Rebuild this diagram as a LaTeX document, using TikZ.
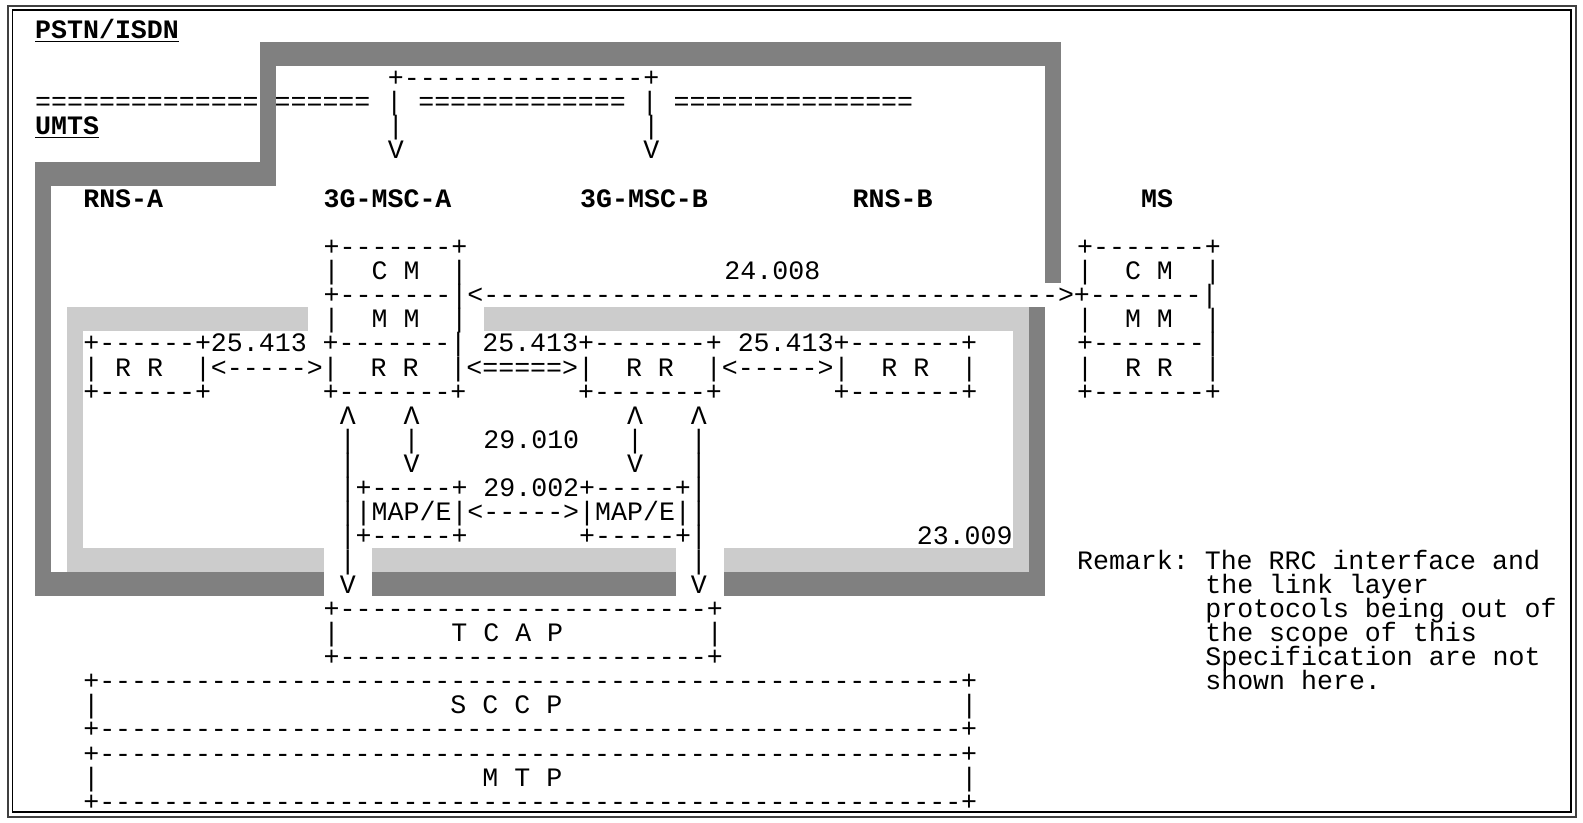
\documentclass[tikz,border=0pt]{standalone}
\usepackage{fontspec}
\setmonofont{Liberation Mono}
\usepackage{tikz}
\ExplSyntaxOn
\NewDocumentCommand\rep{mm}{\prg_replicate:nn{#1}{#2}}
\ExplSyntaxOff

\begin{document}
\begin{tikzpicture}[x=0.3206cm,y=-0.4826cm,
  asc/.style={anchor=base west,yshift=-5pt,inner sep=0pt,outer sep=0pt,font=\ttfamily\fontsize{15.14pt}{18pt}\selectfont},
  hdr/.style={asc,font=\ttfamily\bfseries\fontsize{15.14pt}{18pt}\selectfont},
  darkband/.style={fill=black!50},
  lightband/.style={fill=black!20}]
\useasboundingbox (-5.696,-3.22) rectangle (93.06,30.887);
\draw[black!75,line width=0.04cm] (-5.178,-2.971) rectangle (92.62,30.64);
\draw[line width=0.026cm] (-4.903,-2.806) rectangle (92.31,30.43);
\node[hdr] (pstn) at (-3.5,-2) {\underline{PSTN/ISDN}};
\node[asc] (trunk_top) at (18.5,0) {+\rep{15}{-}+};
\node[asc] (border) at (-3.5,1) {\rep{21}{=}~|~\rep{13}{=}~|~\rep{15}{=}};
\node[hdr] (umts) at (-3.5,2) {\underline{UMTS}};
\node[asc] (trunk_mid) at (18.5,2) {|\rep{15}{~}|};
\node[asc] (trunk_dn) at (18.5,3) {V\rep{15}{~}V};
\node[hdr] (rnsA) at (-0.5,5) {RNS-A};
\node[hdr] (mscA) at (14.5,5) {3G-MSC-A};
\node[hdr] (mscB) at (30.5,5) {3G-MSC-B};
\node[hdr] (rnsB) at (47.5,5) {RNS-B};
\node[hdr] (ms) at (65.5,5) {MS};
\node[asc] (mscA_top) at (14.5,7) {+\rep{7}{-}+};
\node[asc] (ms_top) at (61.5,7) {+\rep{7}{-}+};
\node[asc] (mscA_cm) at (14.5,8) {|~~C~M~~|};
\node[asc] (l24008) at (39.5,8) {24.008};
\node[asc] (ms_cm) at (61.5,8) {|~~C~M~~|};
\node[asc] (cm_link) at (14.5,9) {+\rep{7}{-}|<\rep{36}{-}>+\rep{7}{-}|};
\node[asc] (mscA_mm) at (14.5,10) {|~~M~M~~|};
\node[asc] (ms_mm) at (61.5,10) {|~~M~M~~|};
\node[asc] (rr_top) at (-0.5,11) {+\rep{6}{-}+25.413~+\rep{7}{-}|~25.413+\rep{7}{-}+~25.413+\rep{7}{-}+};
\node[asc] (ms_rrtop) at (61.5,11) {+\rep{7}{-}|};
\node[asc] (rr_mid) at (-0.5,12) {|~R~R~~|<\rep{5}{-}>|~~R~R~~|<\rep{5}{=}>|~~R~R~~|<\rep{5}{-}>|~~R~R~~|};
\node[asc] (ms_rr) at (61.5,12) {|~~R~R~~|};
\node[asc] (rr_bot) at (-0.5,13) {+\rep{6}{-}+\rep{7}{~}+\rep{7}{-}+\rep{7}{~}+\rep{7}{-}+\rep{7}{~}+\rep{7}{-}+};
\node[asc] (ms_bot) at (61.5,13) {+\rep{7}{-}+};
\node[asc] (map_up) at (15.5,14) {Λ~~~Λ\rep{13}{~}Λ~~~Λ};
\node[asc] (map_l29010) at (15.5,15) {|~~~|~~~~29.010~~~|~~~|};
\node[asc] (map_dn) at (15.5,16) {|~~~V\rep{13}{~}V~~~|};
\node[asc] (mapE_top) at (15.5,17) {|+\rep{5}{-}+~29.002+\rep{5}{-}+|};
\node[asc] (mapE) at (15.5,18) {||MAP/E|<\rep{5}{-}>|MAP/E||};
\node[asc] (mapE_bot) at (15.5,19) {|+\rep{5}{-}+\rep{7}{~}+\rep{5}{-}+|};
\node[asc] (l23009) at (51.5,19) {23.009};
\node[asc] (tc_mid) at (15.5,20) {|\rep{21}{~}|};
\node[asc] (tc_dn) at (15.5,21) {V\rep{21}{~}V};
\node[asc] (remark) at (61.5,20) {Remark:~The RRC interface and};
\node[asc] (remark_b) at (69.5,21) {the link layer};
\node[asc] (remark_c) at (69.5,22) {protocols being out of};
\node[asc] (remark_d) at (69.5,23) {the scope of this};
\node[asc] (remark_e) at (69.5,24) {Specification are not};
\node[asc] (remark_f) at (69.5,25) {shown here.};
\node[asc] (tcap_top) at (14.5,22) {+\rep{23}{-}+};
\node[asc] (tcap) at (14.5,23) {|\rep{7}{~}T~C~A~P\rep{9}{~}|};
\node[asc] (tcap_bot) at (14.5,24) {+\rep{23}{-}+};
\node[asc] (sccp_top) at (-0.5,25) {+\rep{54}{-}+};
\node[asc] (sccp) at (-0.5,26) {|\rep{22}{~}S~C~C~P\rep{25}{~}|};
\node[asc] (sccp_bot) at (-0.5,27) {+\rep{54}{-}+};
\node[asc] (mtp_top) at (-0.5,28) {+\rep{54}{-}+};
\node[asc] (mtp) at (-0.5,29) {|\rep{24}{~}M~T~P\rep{25}{~}|};
\node[asc] (mtp_bot) at (-0.5,30) {+\rep{54}{-}+};
% UMTS / MSC area
\fill[darkband] (10.5,-1.5) rectangle (60.5,-0.5);
\fill[darkband] (10.5,-1.5) rectangle (11.5,4.5);
\fill[darkband] (-3.5,3.5) rectangle (11.5,4.5);
\fill[darkband] (-3.5,3.5) rectangle (-2.5,21.5);
\fill[darkband] (59.5,-1.5) rectangle (60.5,8.5);
\fill[darkband] (58.5,9.5) rectangle (59.5,21.5);
\fill[darkband] (-3.5,20.5) rectangle (14.5,21.5);
\fill[darkband] (17.5,20.5) rectangle (36.5,21.5);
\fill[darkband] (39.5,20.5) rectangle (59.5,21.5);
% handover area
\fill[lightband] (-1.5,9.5) rectangle (13.5,10.5);
\fill[lightband] (24.5,9.5) rectangle (58.5,10.5);
\fill[lightband] (-1.5,9.5) rectangle (-0.5,20.5);
\fill[lightband] (57.5,9.5) rectangle (58.5,20.5);
\fill[lightband] (-1.5,19.5) rectangle (14.5,20.5);
\fill[lightband] (17.5,19.5) rectangle (36.5,20.5);
\fill[lightband] (39.5,19.5) rectangle (58.5,20.5);
\end{tikzpicture}
\end{document}
